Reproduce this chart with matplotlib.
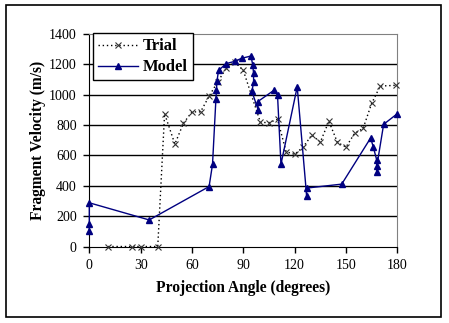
import matplotlib
matplotlib.use("Agg")
import matplotlib.pyplot as plt
from matplotlib.patches import Rectangle

# Trial measurements (angle in degrees, velocity in m/s)
trial_angle = [11, 25, 30, 40, 44, 50, 55, 60, 65, 70, 75, 80, 85, 90,
               100, 105, 110, 115, 120, 125, 130, 135, 140, 145, 150,
               155, 160, 165, 170, 179]
trial_vel = [0, 0, 0, 0, 875, 675, 812, 887, 887, 990, 1085, 1173, 1216, 1160,
             818, 816, 838, 625, 607, 656, 734, 688, 825, 686, 655,
             745, 778, 943, 1057, 1062]

# Model predictions
model_angle = [0, 0, 0, 35, 70, 72, 74, 74.3, 74.6, 75.5, 80, 85, 89, 94.5,
               95.5, 96, 96, 95, 98.7, 98.5, 108, 110, 112, 121.5, 127, 127,
               147.5, 164.4, 166, 168, 168, 168, 172, 180]
model_vel = [102, 148, 288, 175, 395, 541, 974, 1031, 1088, 1160, 1205, 1220, 1240, 1255,
             1196, 1141, 1082, 1022, 900, 955, 1030, 995, 542, 1052, 335, 385,
             411, 715, 654, 568, 493, 528, 805, 875]

xticks = [0, 30, 60, 90, 120, 150, 180]
yticks = [0, 200, 400, 600, 800, 1000, 1200, 1400]

plt.rcParams['font.family'] = ['Liberation Serif', 'DejaVu Serif']

fig = plt.figure(figsize=(4.49, 3.23), dpi=100)
ax = fig.add_axes([0.1989, 0.2368, 0.686, 0.6579])

# outer frame around the whole chart
fig.patches.append(Rectangle((0.0134, 0.0186), 0.9688, 0.966, transform=fig.transFigure,
                             fill=False, edgecolor='black', linewidth=1.2))

ax.plot(trial_angle, trial_vel, linestyle=(0, (1, 2)), color='black', linewidth=1,
        marker='x', markersize=4, markeredgewidth=0.8, markeredgecolor='#333333',
        label='Trial', clip_on=False, zorder=3)
ax.plot(model_angle, model_vel, color='#000080', linewidth=1,
        marker='^', markersize=4.5, markerfacecolor='#000080', markeredgecolor='#000080',
        label='Model', clip_on=False, zorder=4)

ax.set_xlim(0, 180)
ax.set_ylim(0, 1400)
ax.set_xticks(xticks)
ax.set_yticks(yticks)
ax.tick_params(direction='out', length=4, width=1, labelsize=10, color='black', pad=5)

for y in yticks[1:-1]:
    ax.axhline(y, color='black', linewidth=1, zorder=1)

ax.spines['left'].set_color('black')
ax.spines['bottom'].set_color('black')
ax.spines['top'].set_color('#808080')
ax.spines['right'].set_color('#808080')

ax.set_xlabel('Projection Angle (degrees)', fontsize=11.2, fontweight='bold', labelpad=6)
ax.set_ylabel('Fragment Velocity (m/s)', fontsize=11.2, fontweight='bold', labelpad=2)

leg = ax.legend(loc='upper left', bbox_to_anchor=(0.011, 1.003), borderaxespad=0,
                fancybox=False, edgecolor='black', framealpha=1,
                prop={'weight': 'bold', 'size': 12}, handlelength=2.4,
                borderpad=0.3, labelspacing=0.3, handletextpad=0.3)
leg.get_frame().set_linewidth(1)

fig.savefig('out.png', dpi=100)
